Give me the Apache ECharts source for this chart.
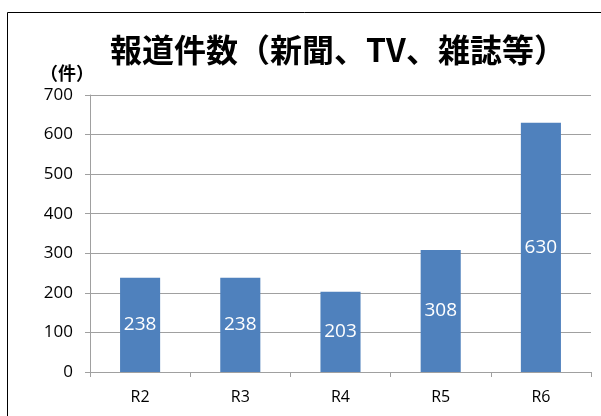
<!DOCTYPE html>
<html>
<head>
<meta charset="utf-8">
<script src="https://cdn.jsdelivr.net/npm/echarts@6/dist/echarts.min.js"></script>
<style>
  html, body { margin: 0; padding: 0; background: #fff; }
  #chart { width: 601px; height: 416px; }
</style>
</head>
<body>
<div id="chart"></div>
<script>
// 年度ごとの報道件数
const categories = ['R2', 'R3', 'R4', 'R5', 'R6'];
const counts = [238, 238, 203, 308, 630];
const yTicks = { min: 0, max: 700, interval: 100 };

const chart = echarts.init(document.getElementById('chart'));
const numFont = '"Open Sans", "Noto Sans", sans-serif';
const cjkFont = '"Noto Sans CJK JP", sans-serif';

const option = {
  animation: false,
  backgroundColor: '#fff',
  graphic: [
    {
      type: 'rect',
      shape: { x: 7.5, y: 12.5, width: 620, height: 420 },
      style: { fill: 'none', stroke: '#000', lineWidth: 1 }
    },
    {
      type: 'text',
      x: 338,
      y: 50,
      style: {
        text: '報道件数（新聞、TV、雑誌等）',
        font: 'bold 32px ' + cjkFont,
        fill: '#000',
        textAlign: 'center',
        textVerticalAlign: 'middle'
      }
    }
  ],
  grid: {
    left: 90,
    right: 10,
    top: 95,
    bottom: 44
  },
  xAxis: {
    type: 'category',
    data: categories,
    axisLine: { show: true, lineStyle: { color: '#a0a0a0', width: 1 } },
    axisTick: { show: true, alignWithLabel: false, length: 5, lineStyle: { color: '#a0a0a0' } },
    axisLabel: { color: '#000', fontSize: 16, fontFamily: numFont, margin: 17 }
  },
  yAxis: {
    type: 'value',
    min: yTicks.min,
    max: yTicks.max,
    interval: yTicks.interval,
    name: '（件）',
    nameLocation: 'end',
    nameGap: 13,
    nameTextStyle: {
      color: '#000',
      fontSize: 18,
      fontWeight: 'bold',
      fontFamily: cjkFont,
      align: 'right',
      padding: [0, -4, 0, 0]
    },
    axisLine: { show: true, lineStyle: { color: '#a0a0a0', width: 1 } },
    axisTick: { show: true, length: 5, lineStyle: { color: '#a0a0a0' } },
    axisLabel: { color: '#000', fontSize: 17, fontFamily: numFont, margin: 17 },
    splitLine: { show: true, lineStyle: { color: '#a0a0a0', width: 1 } }
  },
  series: [
    {
      type: 'bar',
      data: counts,
      barWidth: '40%',
      itemStyle: { color: '#4f81bd' },
      label: {
        show: true,
        position: 'inside',
        color: '#fff',
        fontSize: 19,
        fontFamily: numFont
      }
    }
  ]
};

chart.setOption(option);
</script>
</body>
</html>
